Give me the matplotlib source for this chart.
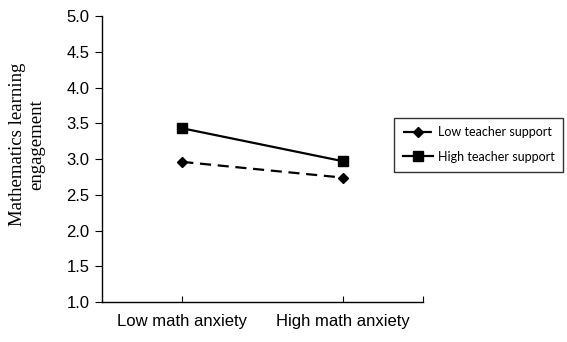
import matplotlib.pyplot as plt

# data
categories = ['Low math anxiety', 'High math anxiety']
low_support = [2.96, 2.74]
high_support = [3.43, 2.97]
y_ticks = [1.0, 1.5, 2.0, 2.5, 3.0, 3.5, 4.0, 4.5, 5.0]

fig = plt.figure(figsize=(5.67, 3.42), dpi=100)
ax = fig.add_axes([0.180, 0.117, 0.566, 0.836])

x = list(range(len(categories)))
ax.plot(x, low_support, color='black', linestyle=(0, (5, 3)), linewidth=1.6,
        marker='D', markersize=5.5, label='Low teacher support')
ax.plot(x, high_support, color='black', linestyle='-', linewidth=1.6,
        marker='s', markersize=6.5, label='High teacher support')

ax.set_xlim(-0.5, 1.5)
ax.set_ylim(1.0, 5.0)
ax.set_yticks(y_ticks)
ax.set_yticklabels([f'{v:.1f}' for v in y_ticks], family='Liberation Sans', fontsize=12)
ax.set_xticks([0, 1, 1.5])
ax.set_xticklabels(categories + [''], family='Liberation Sans', fontsize=12)
ax.tick_params(axis='x', direction='in', length=4, pad=9)
ax.tick_params(axis='y', direction='out', length=5, pad=4)

for side in ['top', 'right']:
    ax.spines[side].set_visible(False)
for side in ['left', 'bottom']:
    ax.spines[side].set_linewidth(1.0)

ax.set_ylabel('Mathematics learning\nengagement', family='Liberation Serif',
              fontsize=13.5, linespacing=1.15)
ax.yaxis.set_label_coords(-0.178, 0.55)

leg = ax.legend(loc='upper left', bbox_to_anchor=(0.91, 0.645), frameon=True,
                fancybox=False, edgecolor='black', handlelength=2.4,
                handletextpad=0.4, borderpad=0.7, labelspacing=1.0,
                borderaxespad=0, prop={'family': 'Lato', 'size': 9})
leg.get_frame().set_linewidth(1.0)

fig.savefig('out.png', dpi=100)
